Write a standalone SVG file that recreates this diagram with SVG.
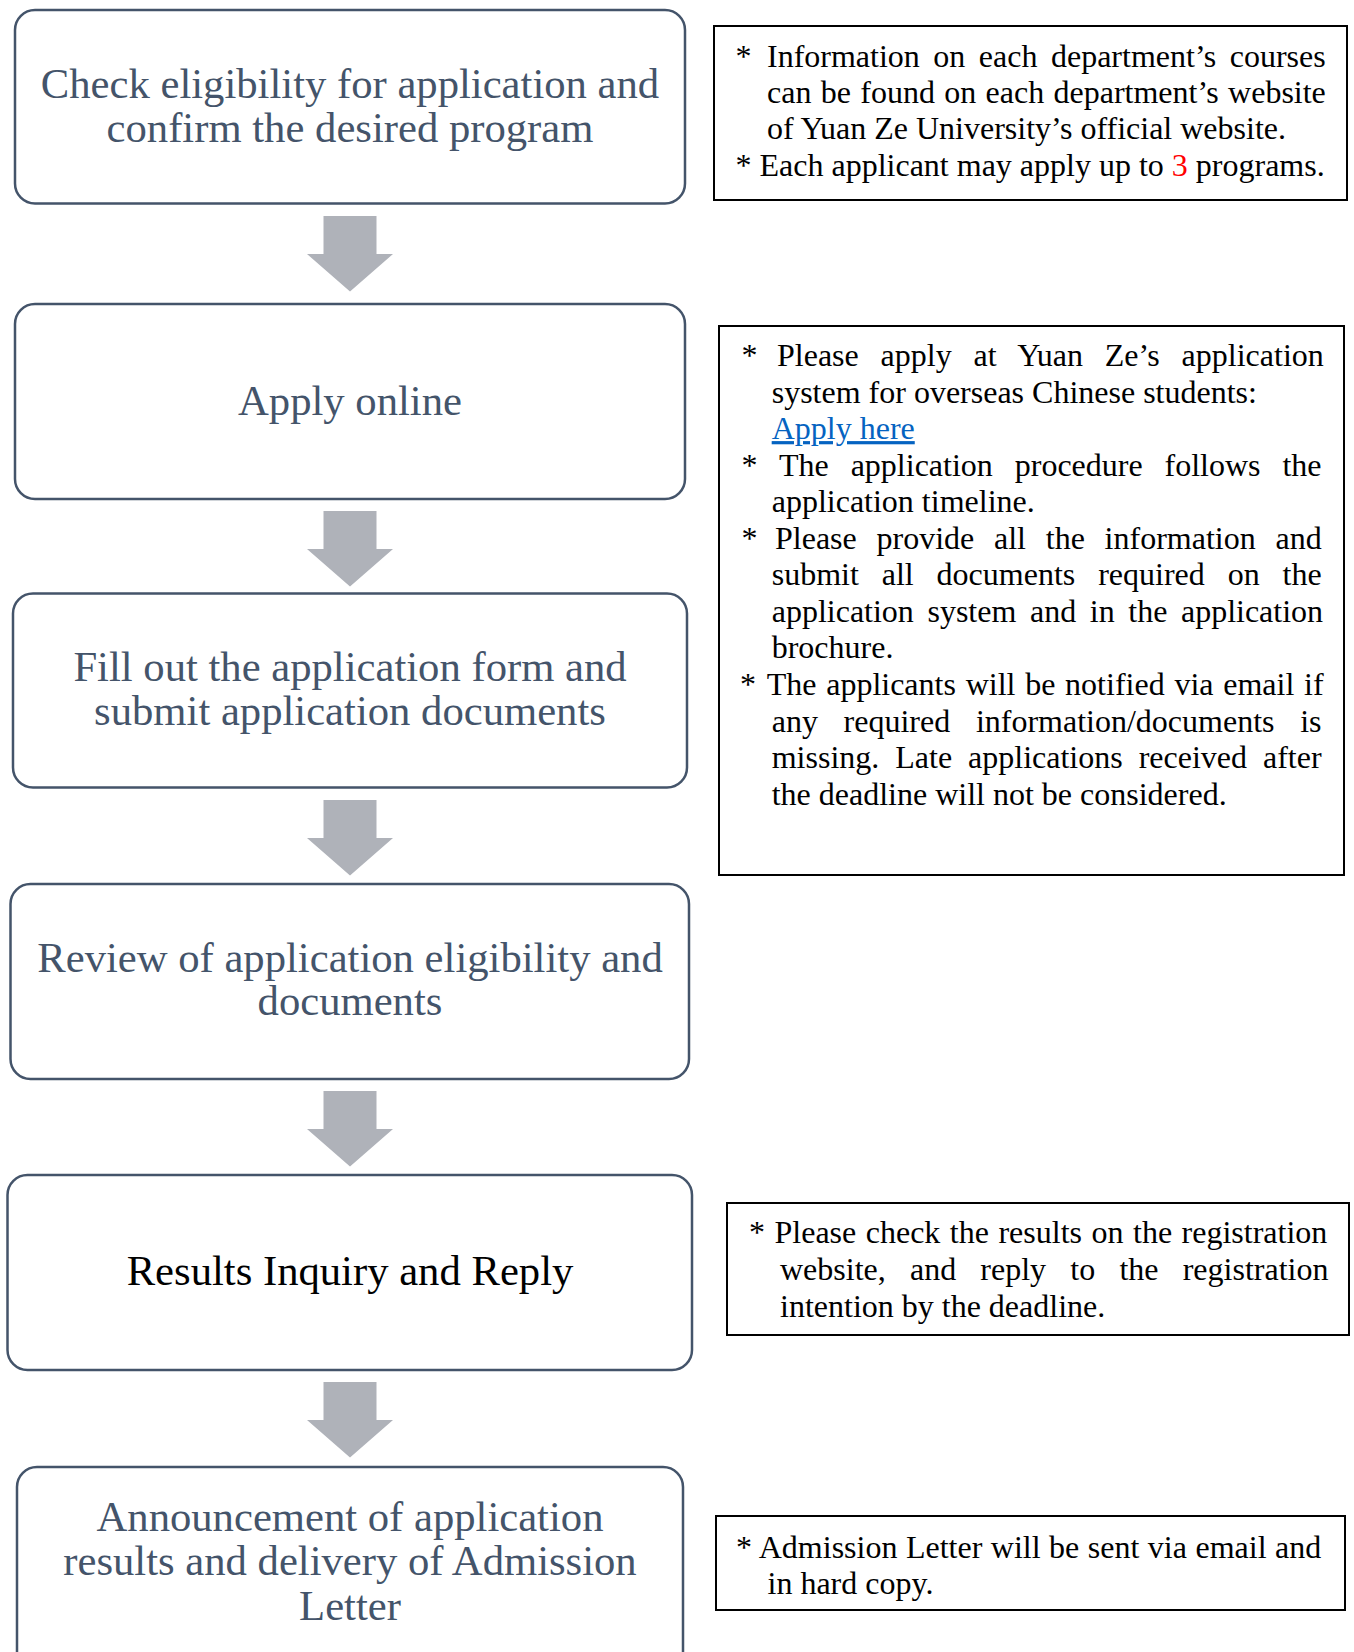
<svg xmlns="http://www.w3.org/2000/svg" width="1354" height="1652" viewBox="0 0 1354 1652">
<style>
.box{fill:#fff;stroke:#44546A;stroke-width:2.5}
.t{font-family:"Liberation Serif","Times New Roman",serif;font-size:42.67px;fill:#44546A;text-anchor:middle}
.note{fill:#fff;stroke:#000;stroke-width:2}
.n{font-family:"Liberation Serif","Times New Roman",serif;font-size:32px;fill:#000}
.arr{fill:#AFB2B9}
</style>
<defs>
<path id="arrow" d="M-26.5,0 H26.5 V38 H43 L0,75.5 L-43,38 H-26.5 Z"/>
</defs>
<rect width="1354" height="1652" fill="#fff"/>
<g id="connectors">
<use href="#arrow" class="arr" x="350" y="216"/>
<use href="#arrow" class="arr" x="350" y="511"/>
<use href="#arrow" class="arr" x="350" y="800"/>
<use href="#arrow" class="arr" x="350" y="1091"/>
<use href="#arrow" class="arr" x="350" y="1382"/>
</g>
<g id="step1">
<rect class="box" x="15" y="10" width="670" height="193.5" rx="20"/>
<text class="t" x="350" y="97.5">Check eligibility for application and</text>
<text class="t" x="350" y="141.7">confirm the desired program</text>
</g>
<g id="step2">
<rect class="box" x="15" y="304" width="670" height="195" rx="20"/>
<text class="t" x="350" y="415">Apply online</text>
</g>
<g id="step3">
<rect class="box" x="13" y="593.5" width="674" height="194" rx="20"/>
<text class="t" x="350" y="681">Fill out the application form and</text>
<text class="t" x="350" y="725">submit application documents</text>
</g>
<g id="step4">
<rect class="box" x="10.5" y="884" width="678.5" height="195" rx="20"/>
<text class="t" x="350" y="971.7">Review of application eligibility and</text>
<text class="t" x="350" y="1015">documents</text>
</g>
<g id="step5">
<rect class="box" x="7.5" y="1175" width="684.5" height="195" rx="20"/>
<text class="t" x="350" y="1285" style="fill:#000">Results Inquiry and Reply</text>
</g>
<g id="step6">
<rect class="box" x="17" y="1467" width="666" height="230" rx="20"/>
<text class="t" x="350" y="1531">Announcement of application</text>
<text class="t" x="350" y="1575">results and delivery of Admission</text>
<text class="t" x="350" y="1620">Letter</text>
</g>
<g id="note1">
<rect class="note" x="714" y="26" width="633" height="174"/>
<text class="n" x="735.5" y="66.7">*</text>
<text class="n" x="767" y="66.7" word-spacing="5.5">Information on each department’s courses</text>
<text class="n" x="767" y="102.7" word-spacing="1.32">can be found on each department’s website</text>
<text class="n" x="767" y="139.3">of Yuan Ze University’s official website.</text>
<text class="n" x="735.5" y="176">* Each applicant may apply up to <tspan fill="#FF0000">3</tspan> programs.</text>
</g>
<g id="note2">
<rect class="note" x="719" y="326" width="625" height="549"/>
<text class="n" x="741.5" y="366">*</text>
<text class="n" x="777" y="366" word-spacing="13.8">Please apply at Yuan Ze’s application</text>
<text class="n" x="771.7" y="402.5">system for overseas Chinese students:</text>
<text class="n" x="771.7" y="439.1" text-decoration="underline" style="fill:#0563C1">Apply here</text>
<text class="n" x="741.5" y="475.6">*</text>
<text class="n" x="779" y="475.6" word-spacing="13.9">The application procedure follows the</text>
<text class="n" x="771.7" y="512.2">application timeline.</text>
<text class="n" x="741.5" y="548.8">*</text>
<text class="n" x="775" y="548.8" word-spacing="11.76">Please provide all the information and</text>
<text class="n" x="771.7" y="585.3" word-spacing="14.9">submit all documents required on the</text>
<text class="n" x="771.7" y="621.9" word-spacing="5.6">application system and in the application</text>
<text class="n" x="771.7" y="658.4">brochure.</text>
<text class="n" x="740" y="695">* <tspan x="766.7" word-spacing="1.74">The applicants will be notified via email if</tspan></text>
<text class="n" x="771.7" y="731.5" word-spacing="17.7">any required information/documents is</text>
<text class="n" x="771.7" y="768.1" word-spacing="7.98">missing. Late applications received after</text>
<text class="n" x="771.7" y="804.6">the deadline will not be considered.</text>
</g>
<g id="note3">
<rect class="note" x="727" y="1203" width="622" height="132"/>
<text class="n" x="749" y="1243.3" word-spacing="1.5">* Please check the results on the registration</text>
<text class="n" x="780" y="1280" word-spacing="16.2">website, and reply to the registration</text>
<text class="n" x="780" y="1316.7">intention by the deadline.</text>
</g>
<g id="note4">
<rect class="note" x="716" y="1516" width="629" height="94"/>
<text class="n" x="736" y="1557.6" word-spacing="0.5">* Admission Letter will be sent via email and</text>
<text class="n" x="767.5" y="1593.8">in hard copy.</text>
</g>
</svg>
